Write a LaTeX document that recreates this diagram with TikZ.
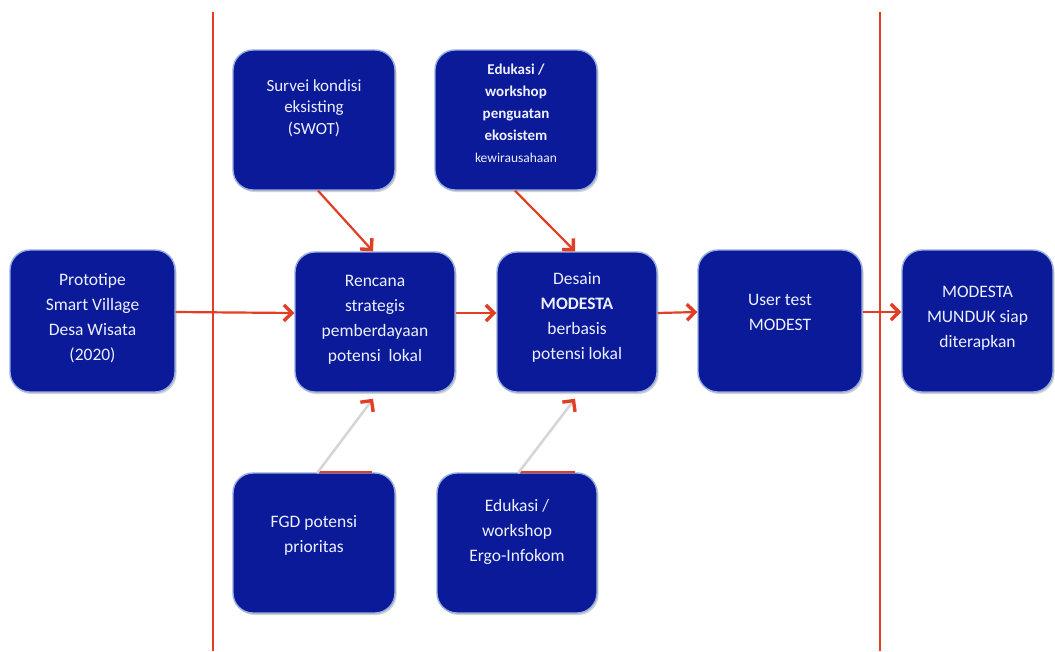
\documentclass[tikz,border=0pt]{standalone}
\usepackage{fontspec}
\setmainfont{Carlito}
\usetikzlibrary{arrows.meta,shadows}
\definecolor{boxblue}{RGB}{10,26,152}
\definecolor{boxedge}{RGB}{150,172,222}
\definecolor{flowred}{RGB}{226,62,38}
\definecolor{linkgray}{RGB}{214,214,214}
\definecolor{boxtextcol}{RGB}{238,240,255}
\begin{document}
\begin{tikzpicture}[x=1pt,y=-1pt,
  stagebox/.style={draw=boxedge, line width=1.4pt, fill=boxblue,
    rounded corners=20pt, inner sep=0pt,
    drop shadow={shadow xshift=1.5pt, shadow yshift=-2pt, fill=black, opacity=0.18}},
  boxtext/.style={text=boxtextcol, align=center, inner sep=0pt},
  txtA/.style={boxtext, font=\fontsize{17.5}{25}\selectfont},
  txtB/.style={boxtext, font=\fontsize{17}{21.5}\selectfont},
  flow/.style={draw=flowred, line width=2.2pt,
    -{Straight Barb[length=8pt,width=16pt,line width=3.4pt]}},
  feed/.style={draw=linkgray, line width=2.6pt,
    -{Straight Barb[length=8pt,width=16pt,line width=3.4pt,color=flowred]}},
  divider/.style={draw=flowred, line width=1.8pt},
  edgemark/.style={draw=flowred, line width=2.2pt}]
\useasboundingbox (0,0) rectangle (1055,651);
\fill[white] (0,0) rectangle (1055,651);

% phase dividers
\coordinate (d1top) at (213,12);  \coordinate (d1bot) at (213,651);
\coordinate (d2top) at (880,12);  \coordinate (d2bot) at (880,651);
\draw[divider] (d1top) -- (d1bot);
\draw[divider] (d2top) -- (d2bot);

% boxes
\node[stagebox, minimum width=165pt, minimum height=142pt] (proto)   at (92.5,321) {};
\node[stagebox, minimum width=162pt, minimum height=140pt] (survei)  at (314,120) {};
\node[stagebox, minimum width=162pt, minimum height=140pt] (edutop)  at (516,120) {};
\node[stagebox, minimum width=160pt, minimum height=140pt] (rencana) at (375,322) {};
\node[stagebox, minimum width=160pt, minimum height=140pt] (desain)  at (577,322) {};
\node[stagebox, minimum width=164pt, minimum height=142pt] (usertest) at (780,321) {};
\node[stagebox, minimum width=151pt, minimum height=142pt] (siap)    at (977.5,321) {};
\node[stagebox, minimum width=162pt, minimum height=140pt] (fgd)     at (314,543) {};
\node[stagebox, minimum width=160pt, minimum height=140pt] (edubot)  at (517,543) {};

% box texts
\node[txtA] (proto-t)   at ([yshift=3pt]proto.center) {Prototipe\\Smart Village\\Desa Wisata\\(2020)};
\node[txtB] (survei-t)  at ([yshift=12pt]survei.center) {Survei kondisi\\eksisting\\(SWOT)};
\node[boxtext, font=\fontsize{15}{22}\selectfont\bfseries] (edutop-t) at ([yshift=7pt]edutop.center)
  {Edukasi /\\workshop\\penguatan\\ekosistem\\{\fontsize{13.5}{16}\selectfont\mdseries kewirausahaan}};
\node[txtA] (rencana-t) at ([yshift=2pt]rencana.center) {Rencana\\strategis\\pemberdayaan\\potensi\ \ lokal};
\node[txtA] (desain-t)  at ([yshift=5pt]desain.center) {Desain\\\textbf{MODESTA}\\berbasis\\potensi lokal};
\node[txtA] (usertest-t) at ([yshift=9pt]usertest.center) {User test\\MODEST};
\node[txtA] (siap-t)    at ([yshift=3pt]siap.center) {MODESTA\\MUNDUK siap\\diterapkan};
\node[txtA] (fgd-t)     at ([yshift=8pt]fgd.center) {FGD potensi\\prioritas};
\node[txtA] (edubot-t)  at ([yshift=11pt]edubot.center) {Edukasi /\\workshop\\Ergo-Infokom};

% main flow
\draw[flow] ([yshift=9pt]proto.east) -- ([yshift=9pt]rencana.west);
\draw[flow] ([yshift=9pt]rencana.east) -- ([yshift=9pt]desain.west);
\draw[flow] ([yshift=9pt]desain.east) -- ([yshift=9pt]usertest.west);
\draw[flow] ([yshift=9pt]usertest.east) -- ([yshift=9pt]siap.west);

% inputs from above
\draw[flow] ([xshift=4pt]survei.south) -- ([xshift=-2pt]rencana.north);
\draw[flow] ([xshift=-1pt]edutop.south) -- ([xshift=-2pt]desain.north);

% inputs from below
\draw[edgemark] ([xshift=3pt]fgd.north) -- ([xshift=58pt]fgd.north);
\draw[edgemark] ([xshift=1pt]edubot.north) -- ([xshift=58pt]edubot.north);
\draw[feed] ([xshift=3pt,yshift=-1pt]fgd.north) -- ([xshift=-2pt,yshift=-6pt]rencana.south);
\draw[feed] ([xshift=1pt,yshift=-1pt]edubot.north) -- ([xshift=-2pt,yshift=-6pt]desain.south);
\end{tikzpicture}
\end{document}
